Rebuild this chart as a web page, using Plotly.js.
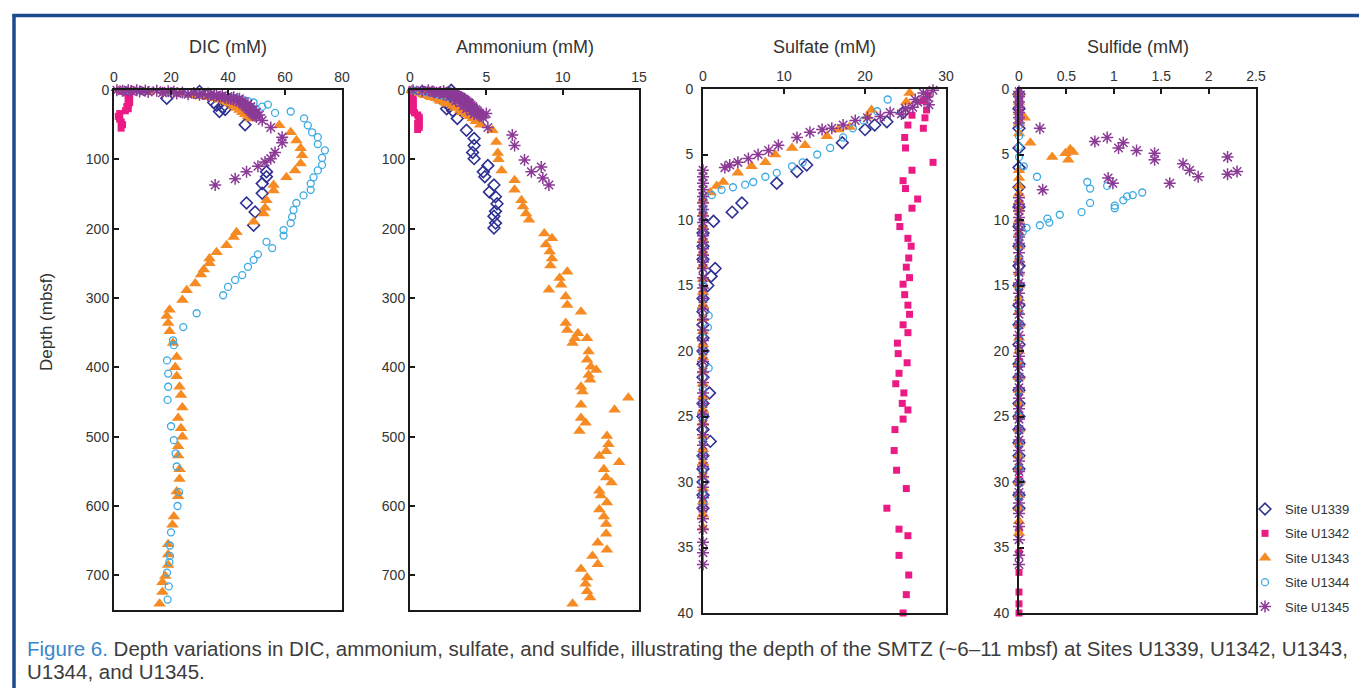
<!DOCTYPE html>
<html>
<head>
<meta charset="utf-8">
<script src="https://cdn.plot.ly/plotly-3.0.1.min.js"></script>
<style>
html,body{margin:0;padding:0;background:#fff;}
#chart{width:1359px;height:688px;}
</style>
</head>
<body>
<div id="chart"></div>
<script>
// ---------------- DATA ----------------
const sites = ["Site U1339", "Site U1342", "Site U1343", "Site U1344", "Site U1345"];
const panelTitles = ["DIC (mM)", "Ammonium (mM)", "Sulfate (mM)", "Sulfide (mM)"];
const yAxisTitle = "Depth (mbsf)";
const captionLabel = "Figure 6.";
const captionLine1 = " Depth variations in DIC, ammonium, sulfate, and sulfide, illustrating the depth of the SMTZ (~6–11 mbsf) at Sites U1339, U1342, U1343,";
const captionLine2 = "U1344, and U1345.";

const dicTicks = [0, 20, 40, 60, 80];
const amTicks = [0, 5, 10, 15];
const suTicks = [0, 10, 20, 30];
const sdTicks = [0, 0.5, 1, 1.5, 2, 2.5];
const deepTicks = [0, 100, 200, 300, 400, 500, 600, 700];
const shallowTicks = [0, 5, 10, 15, 20, 25, 30, 35, 40];

// DIC (mM) vs depth (mbsf)
const dicU1339D = [2, 6, 12, 18, 22, 25, 28, 31, 50, 118, 125, 135, 149, 163, 176, 195];
const dicU1339V = [30, 33, 18.5, 35, 36, 38, 39, 37, 46, 53.5, 53.5, 52, 52, 46.5, 49.5, 49];
const dicU1342D = [0.5, 2, 4, 6, 9, 12, 15, 18, 21, 24, 27, 30, 34, 38, 42, 46, 50, 55];
const dicU1342V = [2, 3.5, 4, 5, 5.5, 5, 5, 5.5, 5, 4.5, 5, 4, 2, 1.5, 2, 2.5, 3, 2.5];
const dicU1343D = [0.5, 1.5, 3, 4.5, 6, 7.5, 9, 10.5, 12, 14, 16, 18, 20, 23, 26, 29, 32, 35, 38, 41,
  51, 61, 73, 84, 94, 106, 116, 126, 137, 145, 159, 170, 178, 190, 205, 212, 224, 234, 243, 250,
  259, 266, 279, 289, 303, 317, 326, 336, 348, 365, 385, 400, 413, 428, 440, 458, 473, 488, 500, 514,
  527, 547, 561, 579, 586, 615, 627, 655, 670, 685, 701, 710, 724, 741];
const dicU1343V = [2, 6, 12, 18, 23, 27, 30, 33, 35, 37, 39, 40, 41, 42, 43, 44, 45, 46, 47, 48,
  58, 62, 64, 65.5, 66, 65.5, 63.5, 60.5, 56, 56, 53.5, 53, 52.5, 49, 43, 42, 39.5, 36, 33.5, 33.5,
  31.5, 30.5, 28.5, 25.5, 24, 19.5, 18.5, 19, 19.5, 20.7, 22, 21.5, 22, 23, 23.5, 24, 22.5, 23.5, 24, 22.5,
  22.5, 23, 23, 22, 22.5, 21, 20.5, 19, 19, 19, 18, 17, 17, 16];
const dicU1344D = [0.5, 1.5, 3, 4.5, 6, 7.5, 9, 10.5, 12, 14, 16, 18, 21, 24,
  31, 33, 41, 51, 61, 68, 78, 87, 98, 108, 116, 126, 135, 144, 152, 163, 173, 183, 192, 202,
  210, 219, 228, 237, 245, 255, 267, 274, 284, 296, 322, 342, 361, 368, 390, 409, 428, 447, 485, 505,
  524, 543, 580, 600, 638, 657, 672, 681, 696, 716, 735];
const dicU1344V = [4, 10, 18, 25, 30, 34, 38, 41, 43, 45, 47, 49, 54, 52,
  62, 56.5, 66.7, 68, 69.5, 71.5, 71.5, 74, 73, 73, 71.5, 70, 69, 69, 66.5, 64, 63, 62.5, 62, 59.5,
  59.5, 53.5, 55.5, 50.5, 49, 47, 45, 42.5, 40, 38.3, 29, 24.3, 20.7, 21, 18.6, 19, 19, 18.8, 20, 21,
  21.6, 22, 22.8, 22.3, 20, 19.6, 19.6, 19.4, 18.6, 19.2, 18.8];
const dicU1345D = [0.3, 1, 1.5, 2, 3, 4, 5, 6, 7, 8, 9, 10, 11, 12, 13, 14, 15, 17, 19, 21, 23, 25, 27, 29, 31, 33, 35, 37, 39,
  44, 54, 68, 76, 90, 99, 104, 110, 118, 128, 137,
  0.2, 0.5, 0.8, 1.2, 1.8, 2.5, 3.5, 4.5, 5.5, 6.5, 7.5, 8.5, 9.5, 10.5, 12.5, 16, 20, 24, 28, 32, 36];
const dicU1345V = [1, 3, 6, 9, 12, 17, 22, 26, 30, 33, 35, 37, 39, 40, 41, 42, 43, 44, 45, 45.5, 46, 46.5, 47, 47.5, 48, 48.5, 49, 49.5, 50,
  52, 55, 59, 59, 56.5, 55, 53, 50.5, 46.5, 42.5, 35.5,
  5, 8, 11, 15, 19, 21, 24, 28, 31, 34, 36, 38, 40, 42, 44, 45, 47, 48, 49, 50, 51];

// Ammonium (mM)
const amU1339D = [0.5, 2, 4, 6, 9, 12, 15, 18, 21, 24, 27, 30, 41, 58, 70, 80, 90, 99, 109, 118, 125, 137, 147, 154, 164, 175, 182, 192, 199];
const amU1339V = [2.7, 0.8, 1.2, 1.5, 1.8, 2.0, 2.2, 2.4, 2.5, 2.6, 2.4, 2.8, 3.1, 3.7, 4.2, 4.2, 4.1, 4.2, 5.1, 4.8, 4.9, 5.5, 5.2, 5.6, 5.7, 5.6, 5.5, 5.6, 5.5];
const amU1342D = [1, 3, 6, 9, 12, 15, 18, 21, 24, 27, 30, 33, 36, 39, 42, 45, 48, 51, 54, 57];
const amU1342V = [0.1, 0.1, 0.15, 0.15, 0.2, 0.2, 0.2, 0.2, 0.2, 0.2, 0.2, 0.3, 0.5, 0.6, 0.6, 0.6, 0.5, 0.6, 0.6, 0.5];
const amU1343D = [0.5, 1.5, 3, 4.5, 6, 7.5, 9, 10.5, 12, 14, 16, 18, 20, 23, 26, 29, 32, 35, 38, 41, 45, 50,
  58, 75, 91, 100, 116, 130, 144, 159, 168, 178, 187, 207, 214, 223, 233, 243, 253, 262, 271, 281,
  288, 298, 310, 320, 336, 346, 351, 358, 358, 365, 377, 389, 399, 404, 411, 418, 428, 435, 444, 454,
  461, 473, 480, 492, 499, 511, 521, 528, 537, 547, 559, 566, 578, 585, 595, 605, 615, 626, 640, 653,
  663, 672, 684, 691, 703, 712, 723, 732, 741];
const amU1343V = [0.1, 0.2, 0.5, 0.6, 0.9, 1.0, 1.3, 1.4, 1.7, 1.9, 2.0, 2.3, 2.4, 2.8, 3.0, 3.3, 3.4, 3.7, 3.9, 4.1, 4.3, 4.6,
  5.4, 5.65, 5.75, 5.8, 6.0, 6.85, 6.85, 7.3, 7.4, 7.6, 7.8, 8.8, 9.3, 8.9, 9.15, 9.3, 9.2, 10.3, 9.8, 9.9,
  9.1, 10.2, 10.3, 11.2, 10.2, 10.3, 11.0, 10.8, 11.6, 10.65, 11.7, 11.6, 11.85, 12.2, 11.7, 11.8, 11.2, 11.3, 14.3, 11.2,
  13.4, 11.2, 11.5, 11.1, 12.9, 13.0, 12.85, 12.4, 13.7, 12.7, 12.85, 13.2, 12.4, 12.5, 12.9, 12.4, 12.7, 12.85, 12.85, 12.3,
  12.9, 11.95, 12.3, 11.2, 11.6, 11.5, 11.6, 11.8, 10.65];
const amU1344D = [0.5, 1.5, 3, 4.5, 6, 7.5, 9, 10.5, 12, 14, 16, 18, 21, 24, 27];
const amU1344V = [0.2, 0.5, 0.9, 1.3, 1.7, 2.0, 2.3, 2.6, 2.9, 3.1, 3.3, 3.5, 3.8, 4.0, 4.2];
const amU1345D = [0.3, 1, 2, 3, 4, 5, 6, 7, 8, 9, 10, 11, 12, 13, 14, 15, 16, 17, 18, 19, 20, 22, 24, 26, 28, 30, 32, 34, 36, 38, 40,
  34, 54, 65, 80, 101, 111, 118, 127, 137,
  0.5, 1.5, 2.5, 3.5, 4.5, 6.5, 9.5, 12.5, 15.5, 18.5, 23, 27, 31, 35];
const amU1345V = [0.2, 0.8, 1.5, 2.0, 2.4, 2.7, 2.8, 3.0, 3.1, 3.2, 3.3, 3.35, 3.4, 3.5, 3.55, 3.6, 3.65, 3.7, 3.8, 3.85, 3.9, 4.0, 4.1, 4.15, 4.3, 4.4, 4.45, 4.55, 4.6, 4.7, 4.8,
  5.0, 5.1, 6.7, 6.85, 7.5, 8.6, 7.95, 8.7, 9.1,
  1.2, 2.2, 2.6, 1.6, 1.9, 2.2, 2.6, 2.9, 3.0, 3.3, 3.5, 3.7, 4.0, 4.2];

// Sulfate (mM)
const suU1339D = [1.8, 2.5, 2.75, 3.1, 4.1, 5.8, 6.3, 7.2, 8.7, 9.4, 10.1, 11, 12, 13, 13.7, 14.3, 15, 16, 17, 18, 19, 20, 21, 22, 23.2, 24, 25, 26, 26.9, 28, 29, 30, 31, 32];
const suU1339V = [24.7, 22.7, 21.2, 20, 17.2, 12.8, 11.6, 9.1, 4.8, 3.6, 1.3, 0, 0, 0, 1.5, 1.0, 0.6, 0, 0, 0, 0, 0, 0, 0, 0.8, 0, 0, 0, 0.9, 0, 0, 0, 0, 0];
const suU1342D = [0.45, 0.9, 1.6, 2, 2.2, 2.75, 3.0, 3.7, 4.5, 5.6, 6.2, 7.0, 7.6, 8.4, 9.1, 9.8, 10.5, 11.4, 12.0, 12.9,
  13.6, 14.4, 14.9, 15.7, 16.5, 17.2, 18.0, 18.6, 19.4, 20.2, 20.9, 21.7, 22.5, 23.2, 24.0, 24.5, 25.2, 26.0, 27.6, 29.1,
  30.5, 32.0, 33.6, 34.1, 35.6, 37.1, 38.6, 40.0];
const suU1342V = [27.8, 27.2, 27.6, 25.8, 27.4, 25.3, 27.2, 24.9, 25, 28.4, 25.8, 24.7, 25, 26.5, 25.8, 24.1, 24.3, 25.3, 25.7, 25.4,
  25.1, 25.5, 24.7, 24.9, 25.3, 25.5, 24.7, 25.3, 24, 24.1, 25.2, 24.2, 23.8, 24.8, 24.6, 25.3, 24.7, 23.7, 23.6, 23.9,
  25.1, 22.7, 24.2, 25.3, 24.2, 25.4, 25.1, 24.7];
const suU1343D = [0.3, 1.0, 1.6, 2.1, 2.9, 3.1, 3.6, 4.3, 4.5, 5.0, 5.6, 5.9, 6.4, 7.1, 7.4, 7.9,
  8.5, 9.5, 10.5, 11.5, 12.5, 13.5, 14.5, 15.5, 16.5, 17.5, 18.5, 19.5, 20.5, 21.5, 22.5, 23.5, 24.5, 25.5, 26.5, 27.5, 28.5, 29.5, 30.5, 31.5, 32.5, 33.5];
const suU1343V = [25.5, 25.1, 20.8, 20.3, 18.1, 16.7, 15.3, 12.6, 11.0, 8.9, 7.7, 6.0, 4.3, 2.5, 1.7, 0.9,
  0, 0, 0, 0, 0, 0, 0, 0, 0, 0, 0, 0, 0, 0, 0, 0, 0, 0, 0, 0, 0, 0, 0, 0, 0, 0];
const suU1344D = [0.8, 1.7, 2.4, 3.0, 3.7, 4.5, 5.0, 5.6, 5.9, 6.4, 6.7, 7.1, 7.3, 7.5, 7.7, 8.1, 8.3,
  9.2, 10, 11, 12, 13, 14, 15, 16, 17.3, 18.2, 19, 20, 21.3, 22, 23, 24, 25, 26, 27, 28, 29, 30, 31, 31.5];
const suU1344V = [22.8, 21.5, 19.8, 18.5, 17.3, 15.7, 14.1, 12.3, 11.0, 9.1, 7.7, 6.2, 5.2, 3.7, 2.3, 1.1, 0,
  0, 0, 0, 0, 0, 0, 0, 0, 0.7, 0.6, 0, 0, 0.7, 0, 0, 0, 0, 0, 0, 0, 0, 0, 0, 0];
const suU1345D = [0.1, 0.6, 1.0, 1.4, 1.8, 2.1, 2.2, 2.4, 2.75, 3.0, 3.1, 3.3, 3.7, 4.3, 4.7, 5.0, 5.3, 5.6, 5.8, 6.0, 6.2,
  6.7, 7.2, 7.7, 8.2, 8.7, 9.2, 9.7, 10.2, 10.7, 11.2, 11.7, 12.2, 12.7, 13.2, 13.7, 14.4, 15.2, 16, 16.8, 17.6,
  18.4, 19.2, 20, 20.8, 21.6, 22.4, 23.2, 24, 24.8, 25.6, 26.4, 27.2, 28, 28.8, 29.6, 30.4, 31.2, 32, 32.8, 33.6,
  34.6, 35.4, 36.3, 0.3, 0.8, 1.2, 1.5, 1.9];
const suU1345V = [28.4, 27.7, 26.5, 25.9, 23.1, 21.9, 20.3, 18.8, 17.3, 15.9, 14.7, 13.2, 11.6, 9.3, 8.1, 6.8, 5.6, 4.3, 3.3, 2.7, 0,
  0, 0, 0, 0, 0, 0, 0, 0, 0, 0, 0, 0, 0, 0, 0, 0, 0, 0, 0, 0,
  0, 0, 0, 0, 0, 0, 0, 0, 0, 0, 0, 0, 0, 0, 0, 0, 0, 0, 0, 0,
  0, 0, 0, 27.2, 26.2, 27.9, 25.0, 24.5];

// Sulfide (mM)
const sdU1339D = [0.4, 1.5, 3, 4.5, 6, 7.5, 9, 10.5, 12, 13.5, 15, 16.5, 18, 19.5, 21, 22, 23, 24, 25, 26, 27, 28, 29, 30, 31, 32];
const sdU1339V = [0, 0, 0, 0, 0, 0, 0, 0, 0, 0, 0, 0, 0, 0, 0, 0, 0, 0, 0, 0, 0, 0, 0, 0, 0, 0];
const sdU1342D = [20.8, 29.1, 29.8, 32.0, 33.7, 35.4, 36.9, 38.4, 39.3, 40];
const sdU1342V = [0, 0, 0, 0, 0, 0, 0, 0, 0, 0];
const sdU1343D = [0.3, 1.0, 1.8, 2.6, 3.4, 2.2, 4.1, 5.2, 4.9, 4.6, 4.8, 5.4, 6.2, 6.8, 7.4, 8, 8.6, 9.2, 10,
  11, 12, 13, 14, 15, 16, 17, 18, 19, 20, 21, 22, 23, 24, 25, 26, 27, 28, 29, 30, 31, 32, 33, 33.9];
const sdU1343V = [0, 0, 0, 0, 0, 0.06, 0.12, 0.35, 0.49, 0.54, 0.57, 0.52, 0, 0, 0, 0, 0, 0, 0,
  0, 0, 0, 0, 0, 0, 0, 0, 0, 0, 0, 0, 0, 0, 0, 0, 0, 0, 0, 0, 0, 0, 0, 0];
const sdU1344D = [0.5, 1.2, 2, 2.8, 3.6, 4.4, 5.2, 5.9, 6.7, 7.1, 7.6, 7.4, 8.2, 8.1, 7.9, 8.5, 8.9,
  9.1, 8.7, 9.4, 9.6, 9.9, 10.2, 10.4, 10.6, 10.9,
  11.3, 12, 13, 14, 15, 16, 17, 18, 19, 20, 21, 22, 23, 24, 25, 26, 27, 28, 29, 30, 31, 32];
const sdU1344V = [0, 0, 0, 0, 0, 0, 0, 0.05, 0.19, 0.72, 0.75, 0.93, 1.14, 1.2, 1.3, 1.1, 1.01,
  1.01, 0.75, 0.66, 0.43, 0.3, 0.32, 0.22, 0.08, 0.04,
  0, 0, 0, 0, 0, 0, 0, 0, 0, 0, 0, 0, 0, 0, 0, 0, 0, 0, 0, 0, 0, 0];
const sdU1345D = [0.2, 0.6, 1, 1.4, 1.8, 2.2, 2.6,
  3.0, 4.0, 3.7, 4.5, 4.1, 4.7, 4.9, 5.4, 5.7, 6.2, 6.7, 5.2, 6.3, 6.5, 7.2, 6.8, 7.2, 7.7,
  8.3, 8.8, 9.3, 9.8, 10.3, 10.8, 11.3, 11.8, 12.5, 13.2, 14, 14.8, 15.6, 16.4, 17.2, 18, 18.8, 19.6, 20.4, 21.2,
  22, 22.8, 23.6, 24.4, 25.2, 26, 26.8, 27.6, 28.4, 29.2, 30, 30.8, 31.6, 32.4, 33.4, 34.4, 35.6, 36.3];
const sdU1345V = [0, 0, 0, 0, 0, 0, 0,
  0.22, 0.80, 0.93, 1.05, 1.1, 1.24, 1.43, 1.43, 1.73, 1.80, 1.89, 2.2, 2.3, 2.2, 1.59, 0.94, 0.99, 0.25,
  0, 0, 0, 0, 0, 0, 0, 0, 0, 0, 0, 0, 0, 0, 0, 0, 0, 0, 0, 0,
  0, 0, 0, 0, 0, 0, 0, 0, 0, 0, 0, 0, 0, 0, 0, 0, 0, 0];

// ---------------- STYLE ----------------
const W = 1359, H = 688;
const FONT = "'Liberation Sans', Arial, Helvetica, sans-serif";
const TXT = "#333333";
const siteStyle = [
  {symbol: "diamond-open", color: "#2e3192", size: 9, lw: 1.6},
  {symbol: "square", color: "#ec1a85", size: 7, lw: 0},
  {symbol: "triangle-up", color: "#f68b24", size: 11, lw: 0},
  {symbol: "circle-open", color: "#3daae2", size: 7, lw: 1.3},
  {symbol: "asterisk-open", color: "#8b3a96", size: 10, lw: 1.5}
];

const panels = [
  {series: [[dicU1339D, dicU1339V], [dicU1342D, dicU1342V], [dicU1343D, dicU1343V], [dicU1344D, dicU1344V], [dicU1345D, dicU1345V]],
   xr: [0, 80], xt: dicTicks, yr: [750, 0], yt: deepTicks, px: [114, 342], py: [90, 610], so: 0},
  {series: [[amU1339D, amU1339V], [amU1342D, amU1342V], [amU1343D, amU1343V], [amU1344D, amU1344V], [amU1345D, amU1345V]],
   xr: [0, 15], xt: amTicks, yr: [750, 0], yt: deepTicks, px: [410, 639], py: [90, 610], so: 0},
  {series: [[suU1339D, suU1339V], [suU1342D, suU1342V], [suU1343D, suU1343V], [suU1344D, suU1344V], [suU1345D, suU1345V]],
   xr: [0, 30], xt: suTicks, yr: [40, 0], yt: shallowTicks, px: [703, 946], py: [89, 613], so: 5},
  {series: [[sdU1339D, sdU1339V], [sdU1342D, sdU1342V], [sdU1343D, sdU1343V], [sdU1344D, sdU1344V], [sdU1345D, sdU1345V]],
   xr: [0, 2.5], xt: sdTicks, yr: [40, 0], yt: shallowTicks, px: [1019, 1256], py: [89, 613], so: 5}
];

const traces = [];
const layout = {
  width: W, height: H,
  margin: {l: 0, r: 0, t: 0, b: 0, autoexpand: false},
  paper_bgcolor: "#ffffff", plot_bgcolor: "#ffffff",
  font: {family: FONT, color: TXT, size: 14},
  showlegend: true,
  legend: {x: 1245 / W, y: 1 - 494 / H, xanchor: "left", yanchor: "top",
           font: {family: FONT, size: 13, color: TXT}, bgcolor: "rgba(0,0,0,0)",
           tracegroupgap: 4.5, itemclick: false, itemdoubleclick: false},
  annotations: [], shapes: []
};

panels.forEach((p, i) => {
  const n = i === 0 ? "" : String(i + 1);
  const axStyle = {
    showline: true, linewidth: 2, linecolor: "#1a1a1a", mirror: true,
    ticks: "inside", ticklen: 5, tickwidth: 1.5, tickcolor: "#1a1a1a",
    showgrid: false, zeroline: false, fixedrange: true,
    tickfont: {family: FONT, size: 14, color: TXT}
  };
  layout["xaxis" + n] = Object.assign({}, axStyle, {
    domain: [p.px[0] / W, p.px[1] / W], anchor: "y" + n, side: "top",
    range: p.xr, tickmode: "array", tickvals: p.xt
  });
  layout["yaxis" + n] = Object.assign({}, axStyle, {
    domain: [1 - p.py[1] / H, 1 - p.py[0] / H], anchor: "x" + n,
    range: p.yr, tickmode: "array", tickvals: p.yt, ticklabelstandoff: p.so
  });
  p.series.forEach((s, k) => {
    const st = siteStyle[k];
    traces.push({
      type: "scatter", mode: "markers",
      x: s[1], y: s[0],
      xaxis: "x" + n, yaxis: "y" + n,
      name: sites[k], legendgroup: sites[k], showlegend: i === 0,
      cliponaxis: false, hoverinfo: "x+y+name",
      marker: {symbol: st.symbol, color: st.color, size: st.size,
               line: {color: st.color, width: st.lw}}
    });
  });
  layout.annotations.push({
    xref: "paper", yref: "paper", x: (p.px[0] + p.px[1]) / 2 / W, y: 1 - 47 / H,
    xanchor: "center", yanchor: "middle", showarrow: false,
    text: panelTitles[i], font: {family: FONT, size: 18, color: TXT}
  });
});

// y-axis title
layout.annotations.push({
  xref: "paper", yref: "paper", x: 47 / W, y: 1 - 322 / H, xanchor: "center", yanchor: "middle",
  showarrow: false, textangle: -90, text: yAxisTitle, font: {family: FONT, size: 17, color: TXT}
});
// caption
layout.annotations.push({
  xref: "paper", yref: "paper", x: 25 / W, y: 1 - 648 / H, xanchor: "left", yanchor: "middle",
  showarrow: false, align: "left",
  text: '<span style="color:#3a86c8">' + captionLabel + '</span>' + captionLine1,
  font: {family: FONT, size: 20.5, color: "#3c3c3c"}
});
layout.annotations.push({
  xref: "paper", yref: "paper", x: 25 / W, y: 1 - 671 / H, xanchor: "left", yanchor: "middle",
  showarrow: false, align: "left", text: captionLine2,
  font: {family: FONT, size: 20.5, color: "#3c3c3c"}
});
// frame
layout.shapes.push({type: "line", xref: "paper", yref: "paper", x0: 12.5 / W, x1: 1, y0: 1 - 15.5 / H, y1: 1 - 15.5 / H,
  line: {color: "#1c4a8e", width: 3.5}});
layout.shapes.push({type: "line", xref: "paper", yref: "paper", x0: 14 / W, x1: 14 / W, y0: 1 - 14 / H, y1: 0,
  line: {color: "#1c4a8e", width: 3.5}});

Plotly.newPlot("chart", traces, layout, {displayModeBar: false, staticPlot: false, responsive: false});
</script>
</body>
</html>
